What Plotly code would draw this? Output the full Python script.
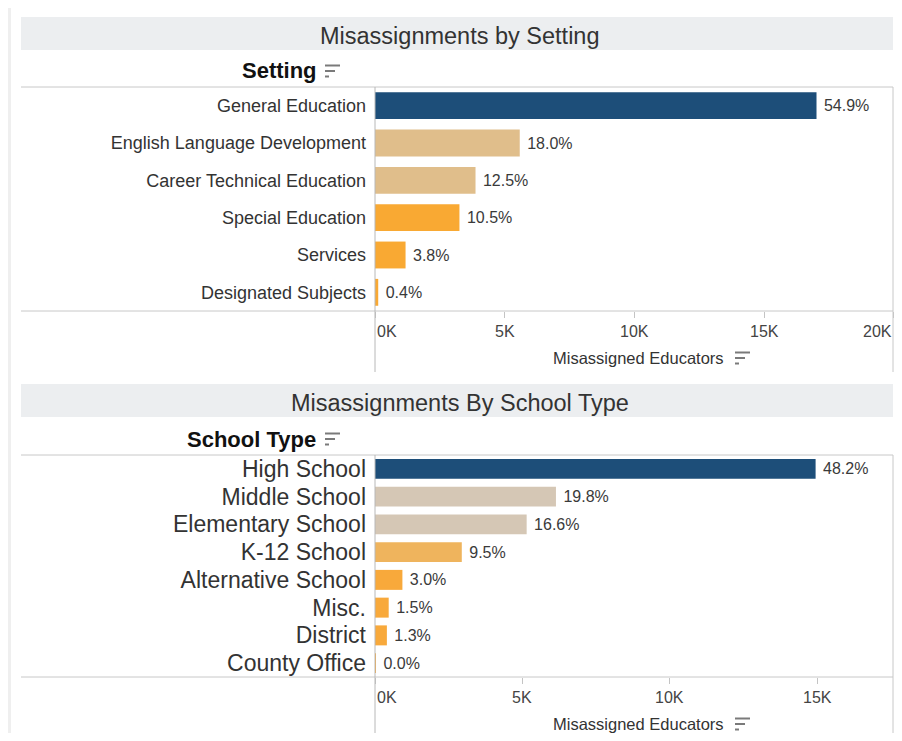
import plotly.graph_objects as go

# the page body has an 8px margin, so the figure is drawn 8px in from the window corner
OFF = 8
W, H = 902 - OFF, 741 - 2 * OFF
FONT = "Liberation Sans, Arial, sans-serif"

# ---------------- data ----------------
setting_categories = ["General Education", "English Language Development", "Career Technical Education",
                      "Special Education", "Services", "Designated Subjects"]
setting_values = [17020, 5580, 3875, 3255, 1178, 124]
setting_pct = ["54.9%", "18.0%", "12.5%", "10.5%", "3.8%", "0.4%"]
setting_colors = ["#1d4e79", "#e0be8b", "#e0be8b", "#f9a933", "#f9a933", "#f9a933"]

school_categories = ["High School", "Middle School", "Elementary School", "K-12 School",
                     "Alternative School", "Misc.", "District", "County Office"]
school_values = [14950, 6140, 5146, 2945, 930, 465, 403, 8]
school_pct = ["48.2%", "19.8%", "16.6%", "9.5%", "3.0%", "1.5%", "1.3%", "0.0%"]
school_colors = ["#1d4e79", "#d5c7b5", "#d5c7b5", "#efb45d", "#f8a93b", "#f8a93b", "#f8a93b", "#f8a93b"]

setting_ticks = [0, 5000, 10000, 15000, 20000]
setting_tick_labels = ["0K", "5K", "10K", "15K", "20K"]
school_ticks = [0, 5000, 10000, 15000]
school_tick_labels = ["0K", "5K", "10K", "15K"]

axis_title = "Misassigned Educators"
title_top = "Misassignments by Setting"
title_bottom = "Misassignments By School Type"
header_top = "Setting"
header_bottom = "School Type"


def px(x):
    return (x - OFF) / W


def py(y):
    return 1 - (y - OFF) / H


fig = go.Figure()
fig.add_trace(go.Bar(
    x=setting_values, y=setting_categories, orientation="h",
    marker=dict(color=setting_colors, line=dict(width=0)),
    text=setting_pct, texttemplate=" %{text}", textposition="outside", cliponaxis=False,
    textfont=dict(family=FONT, size=16, color="#3a3a3a"),
    xaxis="x", yaxis="y", hoverinfo="skip", showlegend=False,
))
fig.add_trace(go.Bar(
    x=school_values, y=school_categories, orientation="h",
    marker=dict(color=school_colors, line=dict(width=0)),
    text=school_pct, texttemplate=" %{text}", textposition="outside", cliponaxis=False,
    textfont=dict(family=FONT, size=16, color="#3a3a3a"),
    xaxis="x2", yaxis="y2", hoverinfo="skip", showlegend=False,
))

xcommon = dict(showgrid=False, zeroline=False, showline=False, ticks="outside", ticklen=6,
               tickcolor="#c4c4c4", showticklabels=False, fixedrange=True)
ycommon = dict(showgrid=False, zeroline=False, showline=False, ticks="", autorange="reversed",
               type="category", ticklabelstandoff=8, fixedrange=True, tickmode="array")

fig.update_layout(
    width=W, height=H, margin=dict(l=0, r=0, t=0, b=0),
    paper_bgcolor="white", plot_bgcolor="white",
    bargap=0.28, showlegend=False,
    font=dict(family=FONT, color="#333333"),
    xaxis=dict(domain=[px(375), px(899)], range=[0, 20200], anchor="y",
               tickvals=setting_ticks, **xcommon),
    yaxis=dict(domain=[py(311), py(87)], anchor="x", tickvals=setting_categories,
               ticktext=setting_categories,
               tickfont=dict(family=FONT, size=18, color="#333333"), **ycommon),
    xaxis2=dict(domain=[px(375), px(899)], range=[0, 17780], anchor="y2",
                tickvals=school_ticks, **xcommon),
    yaxis2=dict(domain=[py(677), py(455)], anchor="x2", tickvals=school_categories,
                ticktext=school_categories,
                tickfont=dict(family=FONT, size=23, color="#333333"), **ycommon),
)

shapes = []
# left page strip
shapes.append(dict(type="rect", xref="paper", yref="paper", x0=0, x1=px(11), y0=0, y1=1,
                   fillcolor="#efefef", line=dict(width=0), layer="below"))
# title bands
for y0, y1 in [(17, 50), (384, 417)]:
    shapes.append(dict(type="rect", xref="paper", yref="paper", x0=px(21), x1=px(893),
                       y0=py(y1), y1=py(y0), fillcolor="#eceef0", line=dict(width=0), layer="below"))
# frame lines
line_col = "#c8c8c8"
for y in [87, 311, 455, 677]:
    shapes.append(dict(type="line", xref="paper", yref="paper", x0=px(21), x1=px(893),
                       y0=py(y), y1=py(y), line=dict(color=line_col, width=1)))
for y0, y1 in [(87, 372), (455, 741)]:
    shapes.append(dict(type="line", xref="paper", yref="paper", x0=px(375), x1=px(375),
                       y0=py(y0), y1=py(y1), line=dict(color="#b8b8b8", width=1)))
    shapes.append(dict(type="line", xref="paper", yref="paper", x0=px(893), x1=px(893),
                       y0=py(y0), y1=py(y1), line=dict(color=line_col, width=1)))


def sort_icon(x0, yc):
    out = []
    for dy, ln in [(-5.5, 15), (0, 10), (5.5, 4)]:
        out.append(dict(type="line", xref="paper", yref="paper", x0=px(x0), x1=px(x0 + ln),
                        y0=py(yc + dy), y1=py(yc + dy), line=dict(color="#7a7a7a", width=2)))
    return out


shapes += sort_icon(325, 71)
shapes += sort_icon(325, 439)
shapes += sort_icon(735, 358)
shapes += sort_icon(735, 724)
fig.update_layout(shapes=shapes)

ann = []
for txt, yc in [(title_top, 36), (title_bottom, 403)]:
    ann.append(dict(text=txt, x=px(460), y=py(yc), xref="paper", yref="paper", showarrow=False,
                    xanchor="center", yanchor="middle", font=dict(family=FONT, size=23.5, color="#333333")))
ann.append(dict(text="<b>" + header_top + "</b>", x=px(319), y=py(71), xref="paper", yref="paper",
                showarrow=False, xanchor="right", yanchor="middle",
                font=dict(family=FONT, size=22, color="#111111")))
ann.append(dict(text="<b>" + header_bottom + "</b>", x=px(318), y=py(439), xref="paper", yref="paper",
                showarrow=False, xanchor="right", yanchor="middle",
                font=dict(family=FONT, size=22, color="#111111")))
for yc in [358, 724]:
    ann.append(dict(text=axis_title, x=px(638), y=py(yc), xref="paper", yref="paper", showarrow=False,
                    xanchor="center", yanchor="middle", font=dict(family=FONT, size=16.5, color="#333333")))

for xref, ticks, labels, yc in [("x", setting_ticks, setting_tick_labels, 332),
                                ("x2", school_ticks, school_tick_labels, 697)]:
    n = len(ticks)
    for i, (t, lab) in enumerate(zip(ticks, labels)):
        if i == 0:
            anchor = "left"
        elif xref == "x" and i == n - 1:
            anchor = "right"
        else:
            anchor = "center"
        ann.append(dict(text=lab, x=t, y=py(yc), xref=xref, yref="paper", showarrow=False,
                        xanchor=anchor, yanchor="middle",
                        font=dict(family=FONT, size=16, color="#444444")))
fig.update_layout(annotations=ann)

fig.write_html("out.html")
